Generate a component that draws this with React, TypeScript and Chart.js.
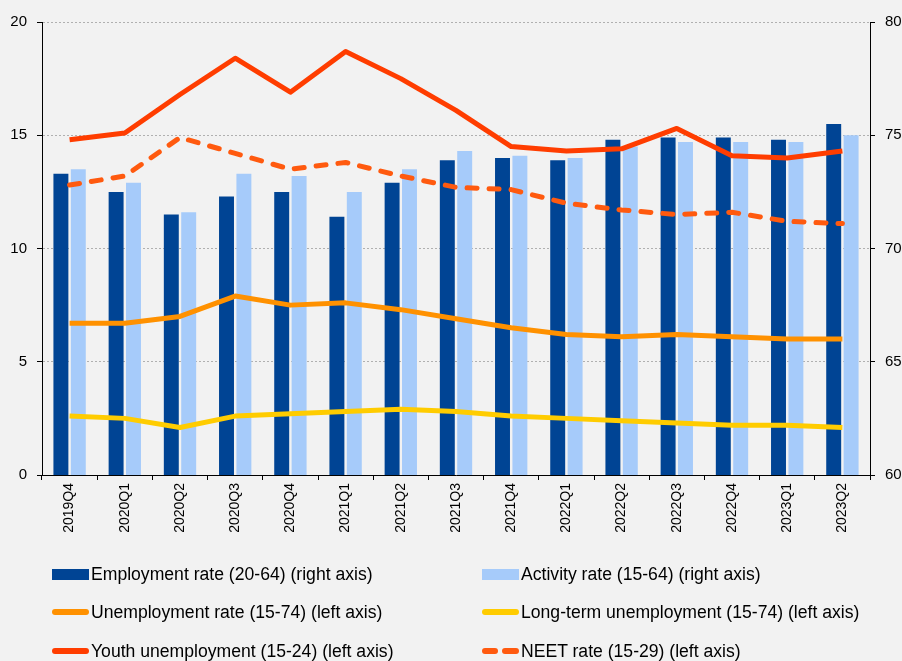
import React, { useEffect, useRef } from "react";
import { Chart, registerables } from "chart.js";

Chart.register(...registerables);

const quarters = [
  "2019Q4", "2020Q1", "2020Q2", "2020Q3", "2020Q4", "2021Q1", "2021Q2", "2021Q3",
  "2021Q4", "2022Q1", "2022Q2", "2022Q3", "2022Q4", "2023Q1", "2023Q2",
];
// right axis (%)
const employmentRate = [73.3, 72.5, 71.5, 72.3, 72.5, 71.4, 72.9, 73.9, 74.0, 73.9, 74.8, 74.9, 74.9, 74.8, 75.5];
const activityRate = [73.5, 72.9, 71.6, 73.3, 73.2, 72.5, 73.5, 74.3, 74.1, 74.0, 74.5, 74.7, 74.7, 74.7, 75.0];
// left axis (%)
const unemploymentRate = [6.7, 6.7, 7.0, 7.9, 7.5, 7.6, 7.3, 6.9, 6.5, 6.2, 6.1, 6.2, 6.1, 6.0, 6.0];
const longTermUnemployment = [2.6, 2.5, 2.1, 2.6, 2.7, 2.8, 2.9, 2.8, 2.6, 2.5, 2.4, 2.3, 2.2, 2.2, 2.1];
const youthUnemployment = [14.8, 15.1, 16.8, 18.4, 16.9, 18.7, 17.5, 16.1, 14.5, 14.3, 14.4, 15.3, 14.1, 14.0, 14.3];
const neetRate = [12.8, 13.2, 14.9, 14.2, 13.5, 13.8, 13.2, 12.7, 12.6, 12.0, 11.7, 11.5, 11.6, 11.2, 11.1];

const leftAxisRange = [0, 20];
const rightAxisRange = [60, 80];
const tickStep = 5;

const labels = {
  employment: "Employment rate (20-64) (right axis)",
  activity: "Activity rate (15-64) (right axis)",
  unemployment: "Unemployment rate (15-74) (left axis)",
  longTerm: "Long-term unemployment (15-74) (left axis)",
  youth: "Youth unemployment (15-24) (left axis)",
  neet: "NEET rate (15-29) (left axis)",
};

const COLORS = {
  darkBlue: "#004494",
  lightBlue: "#A6CBFA",
  orange: "#FF9100",
  yellow: "#FFCC00",
  red: "#FF3D00",
  neet: "#FF5A0F",
};

const FONT = "'Liberation Sans', Arial, sans-serif";

type LegendItem = { label: string; color: string; kind: "box" | "line" | "dash"; col: number; row: number };

const legendItems: LegendItem[] = [
  { label: labels.employment, color: COLORS.darkBlue, kind: "box", col: 0, row: 0 },
  { label: labels.activity, color: COLORS.lightBlue, kind: "box", col: 1, row: 0 },
  { label: labels.unemployment, color: COLORS.orange, kind: "line", col: 0, row: 1 },
  { label: labels.longTerm, color: COLORS.yellow, kind: "line", col: 1, row: 1 },
  { label: labels.youth, color: COLORS.red, kind: "line", col: 0, row: 2 },
  { label: labels.neet, color: COLORS.neet, kind: "dash", col: 1, row: 2 },
];

const colX = [52, 482];
const rowY = [574, 612, 651];

function Marker({ item }: { item: LegendItem }) {
  if (item.kind === "box") {
    return <div style={{ width: 37, height: 11, background: item.color, flex: "none" }} />;
  }
  if (item.kind === "line") {
    return <div style={{ width: 37, height: 6, borderRadius: 3, background: item.color, flex: "none" }} />;
  }
  return (
    <div style={{ width: 37, height: 6, display: "flex", gap: 4, flex: "none" }}>
      <div style={{ width: 16, height: 6, borderRadius: 3, background: item.color }} />
      <div style={{ width: 17, height: 6, borderRadius: 3, background: item.color }} />
    </div>
  );
}

export default function App() {
  const canvasRef = useRef<HTMLCanvasElement | null>(null);

  useEffect(() => {
    document.body.style.margin = "0";
    document.body.style.background = "#F2F2F2";
    const canvas = canvasRef.current;
    if (!canvas) return;

    const lineCommon = {
      type: "line" as const,
      yAxisID: "y",
      pointRadius: 0,
      pointHoverRadius: 0,
      tension: 0,
      fill: false,
      borderJoinStyle: "round" as const,
      order: 0,
    };

    const chart = new Chart(canvas, {
      type: "bar",
      data: {
        labels: quarters,
        datasets: [
          { ...lineCommon, label: labels.youth, data: youthUnemployment, borderColor: COLORS.red, backgroundColor: COLORS.red, borderWidth: 5 },
          { ...lineCommon, label: labels.neet, data: neetRate, borderColor: COLORS.neet, backgroundColor: COLORS.neet, borderWidth: 5, borderDash: [10, 12], borderCapStyle: "round" },
          { ...lineCommon, label: labels.unemployment, data: unemploymentRate, borderColor: COLORS.orange, backgroundColor: COLORS.orange, borderWidth: 5 },
          { ...lineCommon, label: labels.longTerm, data: longTermUnemployment, borderColor: COLORS.yellow, backgroundColor: COLORS.yellow, borderWidth: 5 },
          {
            type: "bar",
            label: labels.employment,
            data: employmentRate,
            yAxisID: "y1",
            backgroundColor: COLORS.darkBlue,
            borderWidth: 0,
            categoryPercentage: 0.63,
            barPercentage: 0.86,
            order: 1,
          },
          {
            type: "bar",
            label: labels.activity,
            data: activityRate,
            yAxisID: "y1",
            backgroundColor: COLORS.lightBlue,
            borderWidth: 0,
            categoryPercentage: 0.63,
            barPercentage: 0.86,
            order: 1,
          },
        ] as any,
      },
      options: {
        responsive: false,
        animation: false,
        devicePixelRatio: 1,
        layout: { padding: { top: 22, bottom: 0, left: 0, right: 0 } },
        plugins: {
          legend: { display: false },
          tooltip: { enabled: false },
          title: { display: false },
        },
        scales: {
          x: {
            type: "category",
            offset: true,
            grid: {
              display: true,
              offset: true,
              drawOnChartArea: false,
              drawTicks: true,
              tickLength: 5,
              color: "#000",
              tickColor: "#000",
            },
            border: { display: true, color: "#000", width: 1 },
            ticks: {
              minRotation: 90,
              maxRotation: 90,
              autoSkip: false,
              padding: 3,
              color: "#000",
              font: { family: FONT, size: 14 },
            },
            afterFit: (scale: any) => {
              scale.height = 186;
            },
          },
          y: {
            type: "linear",
            position: "left",
            min: leftAxisRange[0],
            max: leftAxisRange[1],
            ticks: {
              stepSize: tickStep,
              padding: 10,
              color: "#000",
              font: { family: FONT, size: 15 },
            },
            grid: {
              color: "#B0B0B0",
              tickColor: "#000",
              tickLength: 5,
              drawTicks: true,
              lineWidth: 1,
            },
            border: { display: true, color: "#000", width: 1, dash: [2, 2] },
            afterFit: (scale: any) => {
              scale.width = 42;
            },
          },
          y1: {
            type: "linear",
            position: "right",
            min: rightAxisRange[0],
            max: rightAxisRange[1],
            ticks: {
              stepSize: tickStep,
              padding: 10,
              color: "#000",
              font: { family: FONT, size: 15 },
            },
            grid: {
              drawOnChartArea: false,
              tickColor: "#000",
              tickLength: 5,
              drawTicks: true,
            },
            border: { display: true, color: "#000", width: 1 },
            afterFit: (scale: any) => {
              scale.width = 32;
            },
          },
        },
      } as any,
    });

    return () => {
      chart.destroy();
    };
  }, []);

  return (
    <div style={{ position: "fixed", left: 0, top: 0, width: 902, height: 661, background: "#F2F2F2", overflow: "hidden" }}>
      <canvas ref={canvasRef} width={902} height={661} style={{ position: "absolute", left: 0, top: 0, width: 902, height: 661 }} />
      {legendItems.map((item) => (
        <div
          key={item.label}
          style={{
            position: "absolute",
            left: colX[item.col],
            top: rowY[item.row] - 12,
            height: 24,
            display: "flex",
            alignItems: "center",
            gap: 2,
            fontFamily: FONT,
            fontSize: 17.6,
            color: "#000",
            whiteSpace: "nowrap",
          }}
        >
          <Marker item={item} />
          <span>{item.label}</span>
        </div>
      ))}
    </div>
  );
}
